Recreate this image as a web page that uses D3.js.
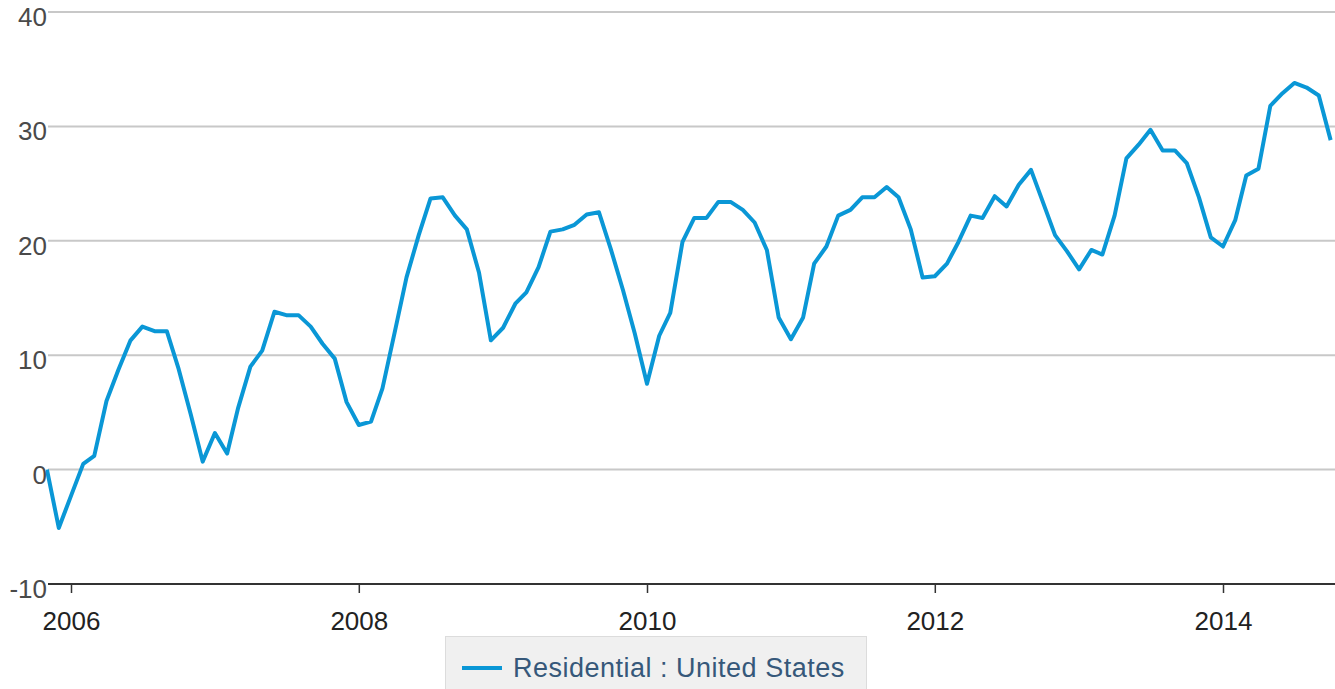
<!DOCTYPE html>
<html lang="en">
<head>
  <meta charset="utf-8">
  <title>Residential : United States</title>
  <script src="https://cdn.jsdelivr.net/npm/d3@7"></script>
  <style>
    body { margin: 0; background: #fff; }
    text { font-family: "Liberation Sans", Arial, sans-serif; }
  </style>
</head>
<body>
  <svg class="chart" width="1335" height="689"></svg>
  <script>
    var width = 1335, height = 689;

    // monthly values, first month is Nov 2005
    var startMonth = "2005-11";
    var residential = [
      0.0, -5.1,
      -2.3, 0.5, 1.2, 6.0, 8.7, 11.3, 12.5, 12.1, 12.1, 8.8, 4.8, 0.7,
      3.2, 1.4, 5.4, 9.0, 10.4, 13.8, 13.5, 13.5, 12.5, 11.0, 9.7, 5.9,
      3.9, 4.2, 7.1, 12.0, 16.8, 20.5, 23.7, 23.8, 22.2, 21.0, 17.2, 11.3,
      12.4, 14.5, 15.5, 17.7, 20.8, 21.0, 21.4, 22.3, 22.5, 19.3, 15.7, 11.9,
      7.5, 11.7, 13.7, 19.9, 22.0, 22.0, 23.4, 23.4, 22.7, 21.6, 19.2, 13.3,
      11.4, 13.3, 18.0, 19.5, 22.2, 22.7, 23.8, 23.8, 24.7, 23.8, 21.0, 16.8,
      16.9, 18.0, 19.9, 22.2, 22.0, 23.9, 23.0, 24.9, 26.2, 23.4, 20.5, 19.1,
      17.5, 19.2, 18.8, 22.2, 27.2, 28.4, 29.7, 27.9, 27.9, 26.8, 23.8, 20.3,
      19.5, 21.8, 25.7, 26.3, 31.8, 32.9, 33.8, 33.4, 32.7, 28.8
    ];
    var xTickLabels = ["2006", "2008", "2010", "2012", "2014"];
    var yTicks = [-10, 0, 10, 20, 30, 40];
    var seriesName = "Residential : United States";

    var parseMonth = d3.utcParse("%Y-%m");
    var parseYear = d3.utcParse("%Y");
    var start = parseMonth(startMonth);
    var data = residential.map(function(v, i) {
      return { date: d3.utcMonth.offset(start, i), value: v };
    });

    var left = 48, right = width, axisY = 584;

    var x = d3.scaleUtc()
              .domain([parseYear("2006"), parseYear("2014")])
              .range([71, 1223]);

    var y = d3.scaleLinear()
              .domain([-10, 40])
              .range([axisY, 12]);

    var svg = d3.select("svg.chart");

    svg.append("clipPath").attr("id", "plot")
       .append("rect")
       .attr("x", left - 2).attr("y", 0)
       .attr("width", right - left + 2).attr("height", axisY);

    // gridlines
    svg.append("g")
       .selectAll("line")
       .data(yTicks.filter(function(d) { return d > -10; }))
       .enter().append("line")
       .attr("x1", left).attr("x2", right)
       .attr("y1", function(d) { return y(d); })
       .attr("y2", function(d) { return y(d); })
       .attr("stroke", "#c8c8c8")
       .attr("stroke-width", 2);

    // y labels
    svg.append("g")
       .selectAll("text")
       .data(yTicks)
       .enter().append("text")
       .attr("x", 47)
       .attr("y", function(d) { return y(d) + 14; })
       .attr("text-anchor", "end")
       .attr("font-size", 26)
       .attr("fill", "#4a4a4a")
       .text(function(d) { return d; });

    // x axis
    var xAxis = d3.axisBottom(x)
                  .tickValues(xTickLabels.map(parseYear))
                  .tickFormat(d3.utcFormat("%Y"))
                  .tickSize(9)
                  .tickPadding(19);

    var gx = svg.append("g")
                .attr("transform", "translate(0," + axisY + ")")
                .call(xAxis);
    gx.select(".domain").remove();
    gx.selectAll(".tick line").attr("stroke", "#333").attr("stroke-width", 1.5);
    gx.selectAll(".tick text")
      .attr("font-size", 26)
      .attr("font-family", "Liberation Sans, Arial, sans-serif")
      .attr("fill", "#222");
    gx.append("line")
      .attr("x1", left).attr("x2", right)
      .attr("stroke", "#333").attr("stroke-width", 2);

    var line = d3.line()
                 .x(function(d) { return x(d.date); })
                 .y(function(d) { return y(d.value); });

    svg.append("path")
       .datum(data)
       .attr("clip-path", "url(#plot)")
       .attr("d", line)
       .attr("fill", "none")
       .attr("stroke", "#0a97d6")
       .attr("stroke-width", 4)
       .attr("stroke-linejoin", "round");

    // legend
    var lg = svg.append("g");
    lg.append("rect")
      .attr("x", 445.5).attr("y", 636.5)
      .attr("width", 421).attr("height", 60)
      .attr("fill", "#f0f0f0")
      .attr("stroke", "#dcdcdc");
    lg.append("line")
      .attr("x1", 462).attr("x2", 502)
      .attr("y1", 668).attr("y2", 668)
      .attr("stroke", "#0a97d6")
      .attr("stroke-width", 4);
    lg.append("text")
      .attr("x", 513).attr("y", 677)
      .attr("font-size", 27)
      .attr("letter-spacing", 0.5)
      .attr("fill", "#36587a")
      .text(seriesName);
  </script>
</body>
</html>
